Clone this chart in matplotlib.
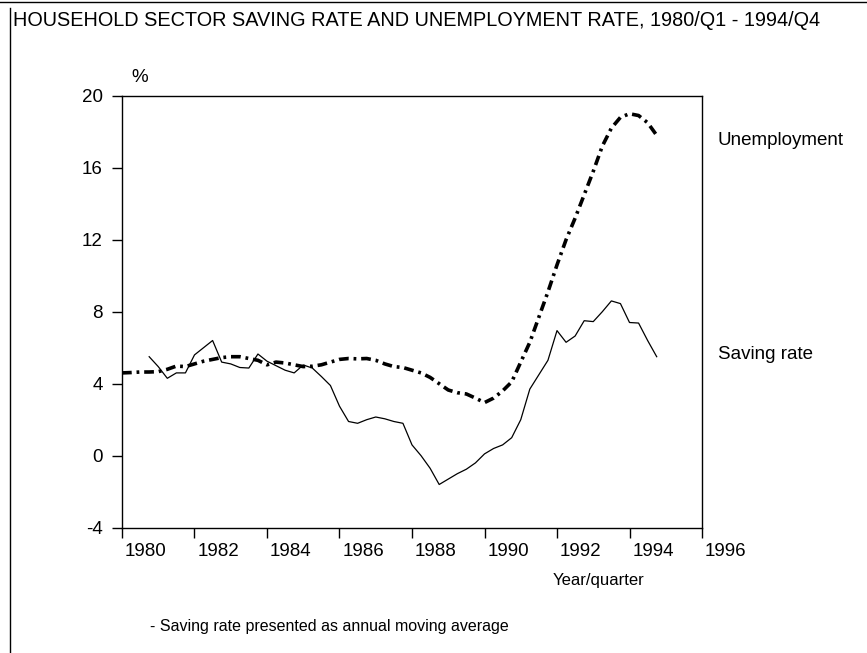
import numpy as np
import matplotlib
matplotlib.use('Agg')
from matplotlib import pyplot as plt
from matplotlib.lines import Line2D
from matplotlib import transforms

plt.rcParams['font.family'] = ['Liberation Sans', 'DejaVu Sans']
plt.rcParams['lines.scale_dashes'] = False
plt.rcParams['axes.unicode_minus'] = False

# quarterly values, 1980/Q1 - 1994/Q4
unemployment = [4.6, 4.62, 4.65, 4.65, 4.67, 4.8, 4.98, 4.95,
                5.1, 5.25, 5.35, 5.45, 5.5, 5.5, 5.4, 5.3,
                5.05, 5.2, 5.15, 5.05, 4.95, 4.97, 5.05, 5.2,
                5.35, 5.4, 5.38, 5.4, 5.3, 5.1, 4.95, 4.9,
                4.75, 4.6, 4.35, 4.0, 3.65, 3.5, 3.43, 3.2,
                2.95, 3.2, 3.6, 4.1, 5.2, 6.3, 7.7, 9.1,
                10.6, 12.0, 13.2, 14.5, 15.8, 17.2, 18.2, 18.8,
                19.0, 18.9, 18.5, 17.8]

# saving rate (annual moving average) starts 1980/Q4
saving_rate = [5.5,
               4.95, 4.3, 4.6, 4.6, 5.6, 6.0, 6.4, 5.2,
               5.1, 4.9, 4.87, 5.65, 5.25, 5.0, 4.75, 4.6,
               5.04, 4.87, 4.4, 3.9, 2.75, 1.9, 1.8, 2.0,
               2.15, 2.05, 1.9, 1.8, 0.6, 0.0, -0.7, -1.6,
               -1.3, -1.0, -0.75, -0.4, 0.1, 0.4, 0.6, 1.0,
               2.0, 3.7, 4.5, 5.3, 6.95, 6.3, 6.65, 7.5,
               7.45, 8.0, 8.6, 8.45, 7.4, 7.37, 6.4, 5.5]

years = [1980, 1982, 1984, 1986, 1988, 1990, 1992, 1994, 1996]
y_ticks = [-4, 0, 4, 8, 12, 16, 20]

t_unemp = 1980 + np.arange(len(unemployment)) / 4
t_save = 1980 + (np.arange(len(saving_rate)) + 3) / 4

fs = 13.5

fig = plt.figure(figsize=(8.67, 6.53), dpi=100)
ax = fig.add_axes([0.1407, 0.1919, 0.669, 0.6615])

ax.plot(t_unemp, unemployment, color='black', lw=2.6,
        dashes=(7, 3.5, 2, 3.5), solid_capstyle='butt')
ax.plot(t_save, saving_rate, color='black', lw=0.9)

ax.set_xlim(1980, 1996)
ax.set_ylim(-4, 20)
ax.set_xticks(years)
ax.set_xticklabels([str(y) for y in years], ha='left')
ax.set_yticks(y_ticks)
ax.tick_params(direction='out', length=7, width=1, labelsize=fs)
ax.tick_params(axis='x', pad=4)
ax.tick_params(axis='y', pad=7)
for s in ax.spines.values():
    s.set_linewidth(1)

# nudge year labels a little right of their ticks
shift = transforms.ScaledTranslation(3 / 100, 0, fig.dpi_scale_trans)
for lab in ax.get_xticklabels():
    lab.set_transform(lab.get_transform() + shift)

ax.text(1996.44, 17.5, 'Unemployment', fontsize=fs, va='center', ha='left')
ax.text(1996.44, 5.6, 'Saving rate', fontsize=fs, va='center', ha='left')

fig.text(140 / 867, 1 - 78 / 653, '%', fontsize=fs, ha='center', va='center')
fig.text(13 / 867, 1 - 21 / 653,
         'HOUSEHOLD SECTOR SAVING RATE AND UNEMPLOYMENT RATE, 1980/Q1 - 1994/Q4',
         fontsize=14.3, ha='left', va='center')
fig.text(553 / 867, 1 - 581 / 653, 'Year/quarter', fontsize=12, ha='left', va='center')
fig.text(150 / 867, 1 - 627 / 653, '- Saving rate presented as annual moving average',
         fontsize=11.5, ha='left', va='center')

# page frame
fig.add_artist(Line2D([0, 1], [1 - 2 / 653, 1 - 2 / 653], color='black', lw=1))
fig.add_artist(Line2D([10 / 867, 10 / 867], [0, 1 - 8 / 653], color='black', lw=1))

fig.savefig('out.png', dpi=100)
